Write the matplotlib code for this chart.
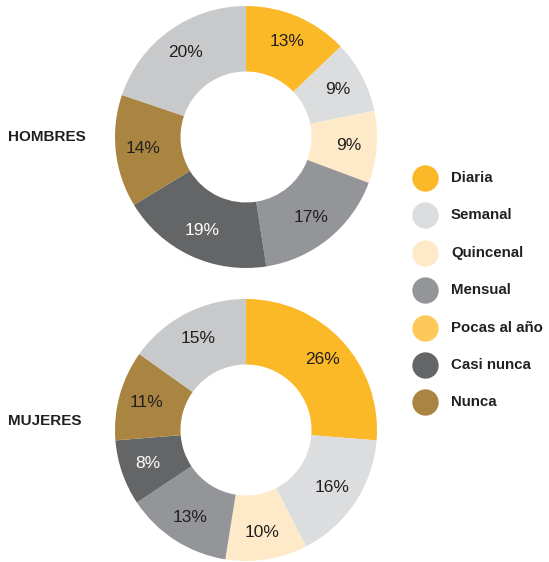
import matplotlib
matplotlib.use("Agg")
import matplotlib.pyplot as plt
import numpy as np

plt.rcParams["font.family"] = ["Liberation Sans", "DejaVu Sans"]

# categories shown in the legend, plus an unlabelled remainder slice
categories = ["Diaria", "Semanal", "Quincenal", "Mensual",
              "Pocas al año", "Casi nunca", "Nunca"]
remainder_name = "NS/NC"

hombres = [13, 9, 9, 17, 0, 19, 14]
hombres_rest = 20
mujeres = [26, 16, 10, 13, 0, 8, 11]
mujeres_rest = 15

colors = {
    "Diaria": "#fbb827",
    "Semanal": "#dcdddf",
    "Quincenal": "#feeac8",
    "Mensual": "#939598",
    "Pocas al año": "#fec95a",
    "Casi nunca": "#646567",
    "Nunca": "#a98541",
    "NS/NC": "#c8c9cb",
}
white_text = {"Casi nunca"}

W, H = 549, 562
fig = plt.figure(figsize=(W / 100, H / 100), dpi=100)


def px_axes(x0, y0, w, h):
    # pixel box (top-left origin) -> figure axes
    return fig.add_axes([x0 / W, 1 - (y0 + h) / H, w / W, h / H])


def donut(ax, values, rest):
    names = [c for c, v in zip(categories, values) if v > 0] + [remainder_name]
    vals = [v for v in values if v > 0] + [rest]
    wedges, _ = ax.pie(vals, colors=[colors[n] for n in names],
                       startangle=90, counterclock=False, radius=1.0,
                       wedgeprops=dict(width=0.5, linewidth=0))
    for w, n, v in zip(wedges, names, vals):
        ang = np.deg2rad((w.theta1 + w.theta2) / 2)
        r = 0.79
        ax.text(r * np.cos(ang), r * np.sin(ang), f"{v}%",
                ha="center", va="center", fontsize=12.5,
                color="white" if n in white_text else "#231f20")
    ax.set_xlim(-1, 1)
    ax.set_ylim(-1, 1)
    ax.set_aspect("equal")
    ax.axis("off")


ax1 = px_axes(115, 6, 262, 262)
donut(ax1, hombres, hombres_rest)
ax2 = px_axes(115, 299, 262, 262)
donut(ax2, mujeres, mujeres_rest)

fig.text(8 / W, 1 - 137 / H, "HOMBRES", fontsize=11, fontweight="bold",
         color="#231f20", ha="left", va="center")
fig.text(8 / W, 1 - 421 / H, "MUJERES", fontsize=11, fontweight="bold",
         color="#231f20", ha="left", va="center")

# legend
lax = fig.add_axes([0, 0, 1, 1])
lax.set_xlim(0, W)
lax.set_ylim(H, 0)
lax.axis("off")
for i, c in enumerate(categories):
    y = 178 + i * 37.4
    lax.scatter([425], [y], s=360, color=colors[c], linewidths=0)
    lax.text(451, y, c, fontsize=10.8, fontweight="bold", color="#231f20",
             ha="left", va="center")

fig.savefig("out.png", dpi=100)
